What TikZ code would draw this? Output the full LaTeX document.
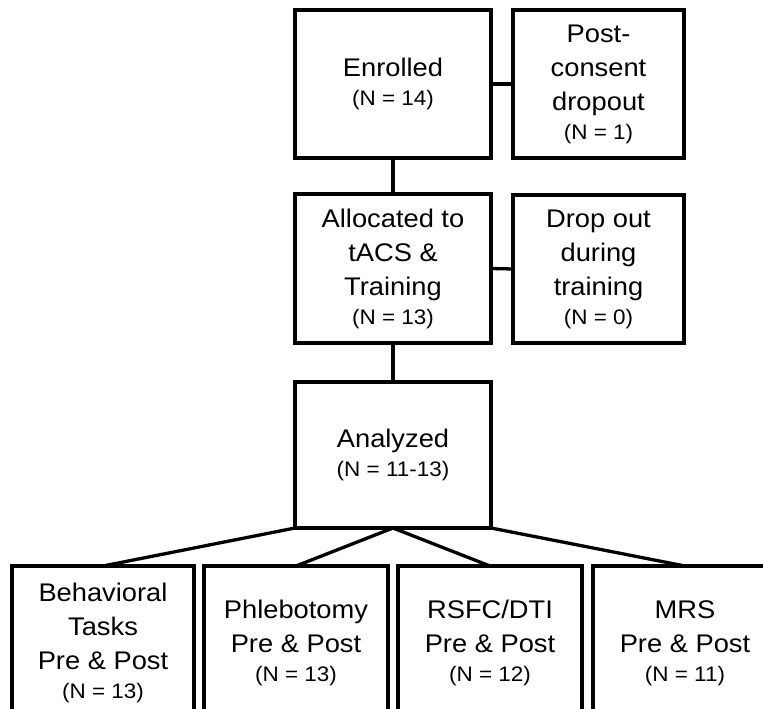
\documentclass[tikz,border=0pt]{standalone}
\usepackage{fontspec}
\setmainfont[FakeStretch=1.07]{Liberation Sans}
\newcommand{\nsmall}[1]{{\fontsize{21}{28}\selectfont #1}}
\begin{document}
\begin{tikzpicture}[x=1pt,y=-1pt,
  box/.style={draw=black, line width=3.3pt, rectangle, outer sep=0pt, inner sep=0pt,
    align=center, font=\fontsize{25.5}{34}\selectfont},
  conn/.style={draw=black, line width=3.3pt, line cap=round}]
\useasboundingbox (0,0) rectangle (763,709);
\clip (0,0) rectangle (763,709);
\fill[white] (0,0) rectangle (763,709);

\node[box, minimum width=196pt, minimum height=148pt] (enr) at (393,84)
  {Enrolled\\[-5pt]\nsmall{(N = 14)}};
\node[box, minimum width=171pt, minimum height=148pt] (post) at (598.5,84)
  {Post-\\consent\\dropout\\[-5pt]\nsmall{(N = 1)}};
\node[box, minimum width=196pt, minimum height=149pt] (alloc) at (393,268.5)
  {Allocated to\\tACS \&\\Training\\[-5pt]\nsmall{(N = 13)}};
\node[box, minimum width=171pt, minimum height=148pt] (drop) at (598.5,269)
  {Drop out\\during\\training\\[-5pt]\nsmall{(N = 0)}};
\node[box, minimum width=196pt, minimum height=146pt] (ana) at (393,455)
  {Analyzed\\[-5pt]\nsmall{(N = 11-13)}};

\node[box, minimum width=182pt, minimum height=154pt] (beh) at (103,643)
  {Behavioral\\Tasks\\Pre \& Post\\[-5pt]\nsmall{(N = 13)}};
\node[box, minimum width=184pt, minimum height=154pt] (phl) at (296,643)
  {Phlebotomy\\Pre \& Post\\[-5pt]\nsmall{(N = 13)}};
\node[box, minimum width=184pt, minimum height=154pt] (rsfc) at (490,643)
  {RSFC/DTI\\Pre \& Post\\[-5pt]\nsmall{(N = 12)}};
\node[box, minimum width=184pt, minimum height=154pt] (mrs) at (685,643)
  {MRS\\Pre \& Post\\[-5pt]\nsmall{(N = 11)}};

\draw[conn] (enr.east) -- (post.west);
\draw[conn] (enr.south) -- (alloc.north);
\draw[conn] (alloc.east) -- (drop.west);
\draw[conn] (alloc.south) -- (ana.north);
\draw[conn] (ana.south west) -- (beh.north);
\draw[conn] (ana.south) -- (phl.north);
\draw[conn] (ana.south) -- (rsfc.north);
\draw[conn] (ana.south east) -- (mrs.north);
\end{tikzpicture}
\end{document}
